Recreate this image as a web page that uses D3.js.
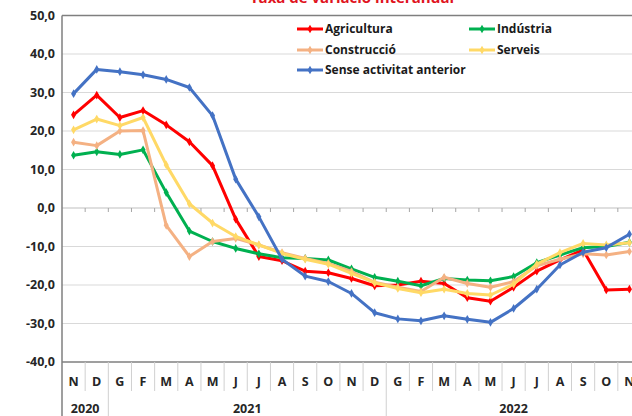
<!DOCTYPE html>
<meta charset="utf-8">
<script src="https://d3js.org/d3.v7.min.js"></script>
<style>
  body { margin: 0; background: #fff; }
  text { font-family: "Open Sans", "Liberation Sans", sans-serif; }
</style>
<svg id="chart" width="632" height="416"></svg>
<script>
// months on the category axis (Nov 2020 .. Nov 2022)
var months = ["N","D","G","F","M","A","M","J","J","A","S","O","N","D","G","F","M","A","M","J","J","A","S","O","N"];
var years = ["2020", "2021", "2022"];
var yearFirst = [0, 2, 14];   // index of first month of each year
var yearCount = [2, 12, 11];

var yTicks = [50, 40, 30, 20, 10, 0, -10, -20, -30, -40];

// series values
var agricultura = [24.2, 29.3, 23.5, 25.3, 21.6, 17.2, 11.0, -2.9, -12.6, -13.7, -16.4, -16.8, -18.3, -20.2, -20.0, -19.0, -19.6, -23.3, -24.2, -20.6, -16.4, -13.5, -10.9, -21.3, -21.1];
var industria   = [13.7, 14.6, 13.9, 15.1, 4.0, -6.0, -8.7, -10.5, -11.9, -12.9, -13.1, -13.5, -15.8, -18.0, -19.0, -20.2, -18.3, -18.7, -18.9, -17.8, -14.2, -12.2, -10.3, -10.0, -8.9];
var construccio = [17.1, 16.2, 20.0, 20.1, -4.5, -12.6, -8.7, -7.9, -9.6, -11.6, -13.1, -14.4, -16.5, -19.3, -20.6, -21.7, -18.0, -19.6, -20.6, -19.1, -15.0, -13.3, -11.9, -12.2, -11.3];
var serveis     = [20.3, 23.1, 21.4, 23.5, 11.2, 1.1, -3.9, -7.4, -9.6, -11.8, -13.3, -14.6, -17.0, -19.4, -20.9, -22.0, -21.1, -22.2, -22.6, -19.8, -14.6, -11.6, -9.2, -9.6, -9.0];
var sense       = [29.7, 36.0, 35.4, 34.6, 33.4, 31.3, 24.0, 7.5, -2.3, -13.3, -17.7, -19.1, -22.2, -27.2, -28.8, -29.3, -28.0, -28.9, -29.7, -26.1, -21.1, -14.8, -11.5, -10.3, -6.8];

var seriesNames = ["Agricultura", "Indústria", "Construcció", "Serveis", "Sense activitat anterior"];
var seriesValues = [agricultura, industria, construccio, serveis, sense];
var seriesColors = ["#ff0000", "#00b050", "#f4b183", "#ffd966", "#4472c4"];

var svg = d3.select("#chart");

var plotL = 62, plotR = 641, plotT = 15.5, plotB = 362;

var x = d3.scaleBand()
    .domain(d3.range(months.length))
    .range([plotL, plotR]);

var y = d3.scaleLinear()
    .domain([-40, 50])
    .range([plotB, plotT]);

// gridlines
svg.append("g")
    .selectAll("line")
    .data(yTicks.filter(function(d) { return d !== 50 && d !== -40 && d !== 0; }))
    .enter().append("line")
    .attr("x1", plotL).attr("x2", plotR)
    .attr("y1", function(d) { return y(d); })
    .attr("y2", function(d) { return y(d); })
    .attr("stroke", "#d9d9d9")
    .attr("stroke-width", 1);

// zero line with little tick marks
svg.append("line")
    .attr("x1", plotL).attr("x2", plotR)
    .attr("y1", y(0)).attr("y2", y(0))
    .attr("stroke", "#bfbfbf");
svg.append("g")
    .selectAll("line")
    .data(d3.range(1, months.length + 1))
    .enter().append("line")
    .attr("x1", function(i) { return plotL + i * x.bandwidth(); })
    .attr("x2", function(i) { return plotL + i * x.bandwidth(); })
    .attr("y1", y(0)).attr("y2", y(0) + 4)
    .attr("stroke", "#a6a6a6");

// plot frame
svg.append("line")
    .attr("x1", plotL).attr("x2", plotR)
    .attr("y1", plotT).attr("y2", plotT)
    .attr("stroke", "#7f7f7f").attr("stroke-width", 1.5);
svg.append("line")
    .attr("x1", plotL).attr("x2", plotR)
    .attr("y1", plotB).attr("y2", plotB)
    .attr("stroke", "#7f7f7f").attr("stroke-width", 1.5);
svg.append("line")
    .attr("x1", plotL).attr("x2", plotL)
    .attr("y1", plotT).attr("y2", 416)
    .attr("stroke", "#7f7f7f").attr("stroke-width", 1.5);

// y labels
svg.append("g")
    .selectAll("text")
    .data(yTicks)
    .enter().append("text")
    .attr("x", 55)
    .attr("y", function(d) { return y(d); })
    .attr("dy", "0.35em")
    .attr("text-anchor", "end")
    .style("font-size", "12.5px")
    .style("font-weight", "bold")
    .style("fill", "#262626")
    .text(function(d) { return d.toFixed(1).replace(".", ","); });

// category separators under the plot
svg.append("g")
    .selectAll("line")
    .data(d3.range(1, months.length + 1))
    .enter().append("line")
    .attr("x1", function(i) { return plotL + i * x.bandwidth(); })
    .attr("x2", function(i) { return plotL + i * x.bandwidth(); })
    .attr("y1", plotB)
    .attr("y2", function(i) { return yearFirst.indexOf(i) >= 0 ? 416 : 391; })
    .attr("stroke", "#d0d0d0");

// month labels
svg.append("g")
    .selectAll("text")
    .data(months)
    .enter().append("text")
    .attr("x", function(d, i) { return x(i) + x.bandwidth() / 2; })
    .attr("y", 382)
    .attr("dy", "0.35em")
    .attr("text-anchor", "middle")
    .style("font-size", "12.5px")
    .style("font-weight", "bold")
    .style("fill", "#262626")
    .text(function(d) { return d; });

// year labels
svg.append("g")
    .selectAll("text")
    .data(years)
    .enter().append("text")
    .attr("x", function(d, i) { return x(yearFirst[i]) + yearCount[i] * x.bandwidth() / 2; })
    .attr("y", 409)
    .attr("dy", "0.35em")
    .attr("text-anchor", "middle")
    .style("font-size", "12.5px")
    .style("font-weight", "bold")
    .style("fill", "#262626")
    .text(function(d) { return d; });

// series lines
var line = d3.line()
    .x(function(d, i) { return x(i) + x.bandwidth() / 2; })
    .y(function(d) { return y(d); });

var diamond = d3.symbol().type(d3.symbolDiamond).size(22);

seriesValues.forEach(function(vals, s) {
    var g = svg.append("g");
    g.append("path")
        .datum(vals)
        .attr("d", line)
        .attr("fill", "none")
        .attr("stroke", seriesColors[s])
        .attr("stroke-width", 3)
        .attr("stroke-linejoin", "round");
    g.selectAll("path.m")
        .data(vals)
        .enter().append("path")
        .attr("class", "m")
        .attr("d", diamond)
        .attr("transform", function(d, i) {
            return "translate(" + (x(i) + x.bandwidth() / 2) + "," + y(d) + ")";
        })
        .attr("fill", seriesColors[s]);
});

// legend
var legendX = [297, 469, 297, 469, 297];
var legendY = [29, 29, 50, 50, 70];
var leg = svg.append("g")
    .selectAll("g")
    .data(seriesNames)
    .enter().append("g")
    .attr("transform", function(d, i) { return "translate(" + legendX[i] + "," + legendY[i] + ")"; });
leg.append("line")
    .attr("x1", 0).attr("x2", 26)
    .attr("stroke", function(d, i) { return seriesColors[i]; })
    .attr("stroke-width", 3);
leg.append("path")
    .attr("d", diamond)
    .attr("transform", "translate(13,0)")
    .attr("fill", function(d, i) { return seriesColors[i]; });
leg.append("text")
    .attr("x", 28)
    .attr("dy", "0.35em")
    .style("font-size", "12px")
    .style("font-weight", "bold")
    .style("fill", "#1a1a1a")
    .text(function(d) { return d; });

// title, mostly cut off at the top
svg.append("text")
    .attr("x", 352)
    .attr("y", 3)
    .attr("text-anchor", "middle")
    .style("font-size", "15px")
    .style("font-weight", "bold")
    .style("fill", "#e0141e")
    .text("Taxa de variació interanual");
</script>
